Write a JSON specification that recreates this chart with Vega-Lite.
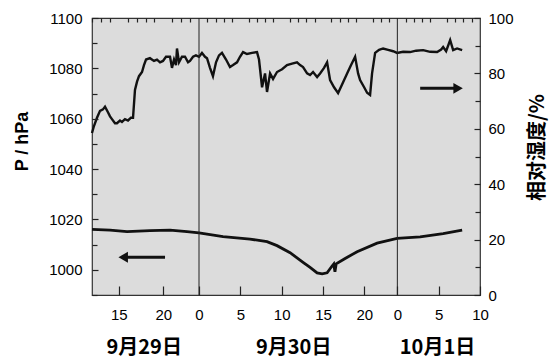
{
  "$schema": "https://vega.github.io/schema/vega-lite/v6.json",
  "width": 388,
  "height": 277,
  "autosize": {"type": "none"},
  "padding": {"left": 92, "top": 18, "right": 69, "bottom": 63},
  "background": "#ffffff",
  "config": {
    "view": {"fill": "#dcdcdc", "stroke": "#333333", "strokeWidth": 1.2},
    "axis": {"labelFont": "Liberation Sans", "labelFontSize": 15, "labelColor": "#000000", "domain": false, "grid": false, "ticks": true, "tickColor": "#222222", "tickWidth": 1.2, "tickOpacity": 1, "titleColor": "#000000", "labelOverlap": false, "labelFlush": false, "labelBound": false}
  },
  "datasets": {
    "pressure": [
      {"t": -12, "p": 1016.1}, {"t": -9.98, "p": 1015.8}, {"t": -8.07, "p": 1015.2}, {"t": -5.5, "p": 1015.6},
      {"t": -3.25, "p": 1015.8}, {"t": -1.35, "p": 1015.2}, {"t": 0, "p": 1014.7}, {"t": 2.91, "p": 1013.2},
      {"t": 6.17, "p": 1012.2}, {"t": 8.23, "p": 1011.2}, {"t": 9.44, "p": 1009.6}, {"t": 11.02, "p": 1006.8},
      {"t": 12.59, "p": 1003.0}, {"t": 13.44, "p": 1001.0}, {"t": 14.29, "p": 998.8}, {"t": 14.9, "p": 998.4},
      {"t": 15.5, "p": 998.8}, {"t": 16.1, "p": 1001.5}, {"t": 16.3, "p": 1002.3}, {"t": 16.45, "p": 999.2},
      {"t": 16.6, "p": 1002.4}, {"t": 17.68, "p": 1004.5}, {"t": 19.13, "p": 1007.2}, {"t": 21.55, "p": 1010.6},
      {"t": 23.97, "p": 1012.5}, {"t": 26.76, "p": 1013.1}, {"t": 29.54, "p": 1014.4}, {"t": 31.84, "p": 1015.8}
    ],
    "rh": [
      {"t": -12.0, "rh": 58.5}, {"t": -11.78, "rh": 61}, {"t": -11.44, "rh": 64}, {"t": -11.1, "rh": 66.5},
      {"t": -10.77, "rh": 67}, {"t": -10.54, "rh": 68}, {"t": -10.21, "rh": 66}, {"t": -9.98, "rh": 64.5},
      {"t": -9.76, "rh": 63.5}, {"t": -9.42, "rh": 62}, {"t": -9.2, "rh": 62}, {"t": -8.86, "rh": 63},
      {"t": -8.64, "rh": 62.5}, {"t": -8.3, "rh": 63.5}, {"t": -7.96, "rh": 63}, {"t": -7.63, "rh": 64},
      {"t": -7.4, "rh": 64}, {"t": -7.18, "rh": 74}, {"t": -6.95, "rh": 77}, {"t": -6.73, "rh": 79},
      {"t": -6.39, "rh": 80.5}, {"t": -6.17, "rh": 83}, {"t": -5.94, "rh": 85}, {"t": -5.5, "rh": 85.5},
      {"t": -5.05, "rh": 84.5}, {"t": -4.71, "rh": 85}, {"t": -4.37, "rh": 84}, {"t": -4.04, "rh": 84.5},
      {"t": -3.7, "rh": 86}, {"t": -3.25, "rh": 86}, {"t": -3.03, "rh": 82}, {"t": -2.8, "rh": 85},
      {"t": -2.58, "rh": 83}, {"t": -2.47, "rh": 89}, {"t": -2.24, "rh": 84}, {"t": -1.91, "rh": 86},
      {"t": -1.57, "rh": 86}, {"t": -1.23, "rh": 84}, {"t": -1.01, "rh": 84.5}, {"t": -0.67, "rh": 86},
      {"t": -0.34, "rh": 86.5}, {"t": 0, "rh": 86}, {"t": 0.36, "rh": 87.4}, {"t": 0.73, "rh": 86},
      {"t": 0.97, "rh": 85.5}, {"t": 1.33, "rh": 82}, {"t": 1.69, "rh": 79}, {"t": 2.06, "rh": 84},
      {"t": 2.42, "rh": 86.5}, {"t": 2.78, "rh": 87.4}, {"t": 3.27, "rh": 85}, {"t": 3.75, "rh": 82.3},
      {"t": 4.12, "rh": 83}, {"t": 4.6, "rh": 84}, {"t": 4.96, "rh": 86}, {"t": 5.33, "rh": 87.7},
      {"t": 5.81, "rh": 87}, {"t": 6.42, "rh": 87.4}, {"t": 7.02, "rh": 87.7}, {"t": 7.26, "rh": 85},
      {"t": 7.63, "rh": 75}, {"t": 7.99, "rh": 80}, {"t": 8.23, "rh": 73.3}, {"t": 8.6, "rh": 80},
      {"t": 8.96, "rh": 78}, {"t": 9.44, "rh": 80.5}, {"t": 10.05, "rh": 81.5}, {"t": 10.65, "rh": 83},
      {"t": 11.26, "rh": 83.5}, {"t": 11.86, "rh": 84}, {"t": 12.23, "rh": 83}, {"t": 12.59, "rh": 82.3},
      {"t": 13.08, "rh": 80}, {"t": 13.44, "rh": 79.4}, {"t": 13.8, "rh": 80.5}, {"t": 14.29, "rh": 78.7},
      {"t": 14.65, "rh": 80}, {"t": 15.13, "rh": 82}, {"t": 15.5, "rh": 84}, {"t": 15.86, "rh": 77.6},
      {"t": 16.34, "rh": 75}, {"t": 16.83, "rh": 72.9}, {"t": 17.31, "rh": 76}, {"t": 17.92, "rh": 80},
      {"t": 18.4, "rh": 83}, {"t": 18.89, "rh": 86}, {"t": 19.25, "rh": 80}, {"t": 19.49, "rh": 77.6},
      {"t": 19.98, "rh": 75}, {"t": 20.34, "rh": 73}, {"t": 20.7, "rh": 72.2}, {"t": 20.94, "rh": 80},
      {"t": 21.31, "rh": 87.4}, {"t": 21.79, "rh": 88.5}, {"t": 22.28, "rh": 89}, {"t": 22.88, "rh": 88.5},
      {"t": 23.49, "rh": 88}, {"t": 23.97, "rh": 87.4}, {"t": 24.7, "rh": 87.8}, {"t": 25.54, "rh": 87.7},
      {"t": 26.27, "rh": 88.2}, {"t": 27.12, "rh": 88.4}, {"t": 27.97, "rh": 87.8}, {"t": 28.81, "rh": 87.7},
      {"t": 29.3, "rh": 88.6}, {"t": 29.54, "rh": 89.5}, {"t": 29.9, "rh": 88}, {"t": 30.39, "rh": 92},
      {"t": 30.75, "rh": 88.4}, {"t": 31.23, "rh": 89}, {"t": 31.84, "rh": 88.4}
    ],
    "parrow": [
      {"t": -3.81, "p": 1005, "part": "tail"},
      {"t": -8.5, "p": 1005, "part": "head"}
    ],
    "rharrow": [
      {"t": 26.76, "rh": 74.6, "part": "tail"},
      {"t": 31.35, "rh": 74.6, "part": "head"}
    ],
    "days": [
      {"t": 0},
      {"t": 24}
    ]
  },
  "layer": [
    {
      "layer": [
        {
          "data": {"name": "pressure"},
          "mark": {"type": "line", "color": "#111111", "strokeWidth": 2.8},
          "encoding": {
            "x": {
              "field": "t", "type": "quantitative",
              "scale": {"domain": [-12, 0, 34], "range": [0, 107, 388], "nice": false, "zero": false},
              "axis": {
                "title": null,
                "values": [-9, -4, 0, 5, 10, 15, 20, 24, 29, 34],
                "labelExpr": "'' + (((datum.value % 24) + 24) % 24)",
                "offset": -9,
                "ticks": true,
                "tickSize": 9,
                "tickColor": "#222222",
                "tickWidth": 1.2,
                "tickOpacity": 1,
                "labelPadding": 12,
                "labelOverlap": false,
                "zindex": 2
              }
            },
            "y": {
              "field": "p", "type": "quantitative",
              "scale": {"domain": [990, 1100], "nice": false, "zero": false},
              "axis": {
                "orient": "left",
                "title": "P / hPa",
                "values": [1000, 1020, 1040, 1060, 1080, 1100],
                "format": "d",
                "labelOverlap": false,
                "offset": -6,
                "ticks": true,
                "tickSize": 6,
                "tickColor": "#222222",
                "tickWidth": 1.2,
                "tickOpacity": 1,
                "labelPadding": 10,
                "zindex": 2,
                "titleFont": "Liberation Sans",
                "titleFontSize": 18,
                "titleFontWeight": "bold",
                "titleAngle": 270,
                "titleX": -76,
                "titleY": 123,
                "titleBaseline": "middle",
                "titleAlign": "center"
              }
            }
          }
        },
        {
          "data": {"name": "parrow"},
          "mark": {"type": "line", "color": "#111111", "strokeWidth": 3},
          "encoding": {
            "x": {"field": "t", "type": "quantitative"},
            "y": {
              "field": "p", "type": "quantitative",
              "axis": {"orient": "left", "title": null, "values": [990, 1010, 1030, 1050, 1070, 1090], "labels": false, "offset": -5, "ticks": true, "tickSize": 5, "tickColor": "#222222", "tickWidth": 1.2, "tickOpacity": 1, "zindex": 2}
            }
          }
        },
        {
          "data": {"name": "parrow"},
          "transform": [{"filter": "datum.part == 'head'"}],
          "mark": {"type": "point", "shape": "triangle-left", "filled": true, "size": 120, "color": "#111111", "opacity": 1},
          "encoding": {
            "x": {"field": "t", "type": "quantitative"},
            "y": {"field": "p", "type": "quantitative", "axis": null}
          }
        }
      ],
      "resolve": {"axis": {"y": "independent"}}
    },
    {
      "layer": [
        {
          "data": {"name": "rh"},
          "mark": {"type": "line", "color": "#111111", "strokeWidth": 2.4},
          "encoding": {
            "x": {
              "field": "t", "type": "quantitative",
              "axis": {
                "title": null,
                "orient": "bottom",
                "values": [-6.2, 11.4, 28.8],
                "labelExpr": "datum.value < 0 ? '9月29日' : (datum.value < 20 ? '9月30日' : '10月1日')",
                "ticks": false,
                "tickSize": 0,
                "labelOverlap": false,
                "labelPadding": 42,
                "labelFont": "Noto Sans CJK SC",
                "labelFontSize": 20,
                "labelFontWeight": "bold",
                "zindex": 2
              }
            },
            "y": {
              "field": "rh", "type": "quantitative",
              "scale": {"domain": [0, 100], "nice": false},
              "axis": {
                "orient": "right",
                "title": "相对湿度/%",
                "values": [0, 20, 40, 60, 80, 100],
                "labelOverlap": false,
                "offset": -6,
                "ticks": true,
                "tickSize": 6,
                "tickColor": "#222222",
                "tickWidth": 1.2,
                "tickOpacity": 1,
                "labelPadding": 8,
                "zindex": 2,
                "titleFont": "Noto Sans CJK SC",
                "titleFontSize": 20,
                "titleFontWeight": "bold",
                "titleAngle": 270,
                "titleX": 63,
                "titleY": 129,
                "titleBaseline": "middle",
                "titleAlign": "center"
              }
            }
          }
        },
        {
          "data": {"name": "rharrow"},
          "mark": {"type": "line", "color": "#111111", "strokeWidth": 3},
          "encoding": {
            "x": {"field": "t", "type": "quantitative"},
            "y": {
              "field": "rh", "type": "quantitative",
              "axis": {"orient": "right", "title": null, "values": [10, 30, 50, 70, 90], "labels": false, "offset": -5, "ticks": true, "tickSize": 5, "tickColor": "#222222", "tickWidth": 1.2, "tickOpacity": 1, "zindex": 2}
            }
          }
        },
        {
          "data": {"name": "rharrow"},
          "transform": [{"filter": "datum.part == 'head'"}],
          "mark": {"type": "point", "shape": "triangle-right", "filled": true, "size": 120, "color": "#111111", "opacity": 1},
          "encoding": {
            "x": {"field": "t", "type": "quantitative"},
            "y": {"field": "rh", "type": "quantitative", "axis": null}
          }
        }
      ],
      "resolve": {"axis": {"y": "independent"}}
    },
    {
      "data": {"name": "days"},
      "mark": {"type": "rule", "color": "#222222", "strokeWidth": 1},
      "encoding": {
        "x": {
          "field": "t", "type": "quantitative",
          "axis": {
            "title": null,
            "values": [-12,-11,-10,-8,-7,-6,-5,-3,-2,-1,1,2,3,4,6,7,8,9,11,12,13,14,16,17,18,19,21,22,23,25,26,27,28,30,31,32,33],
            "labels": false,
            "offset": -4,
            "ticks": true,
            "tickSize": 4,
            "tickColor": "#222222",
            "tickWidth": 1.2,
            "tickOpacity": 1,
            "zindex": 2
          }
        }
      }
    }
  ],
  "resolve": {"scale": {"y": "independent"}, "axis": {"x": "independent"}}
}
